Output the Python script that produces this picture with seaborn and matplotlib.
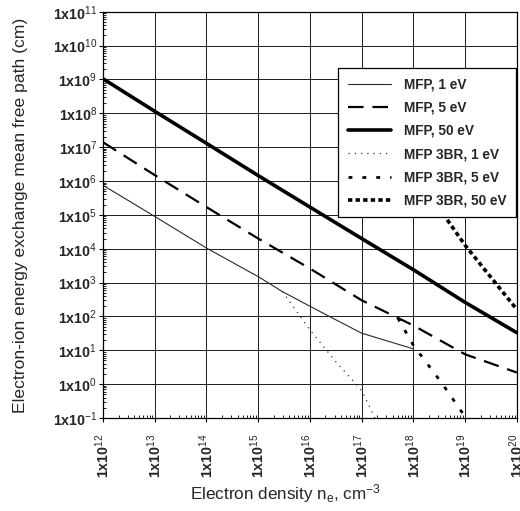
import numpy as np
import pandas as pd
import matplotlib
matplotlib.use("Agg")
import matplotlib.pyplot as plt
import matplotlib.ticker as mticker
import seaborn as sns

# ---- data ----
x_mfp_1 = [1e12, 1e13, 1e14, 4.4e14, 1e15, 2.95e15, 1e16, 2.6e16, 1e17, 1e18]
y_mfp_1 = [7.5e5, 9e4, 1.05e4, 3000, 1500, 540, 200, 93, 32, 11]

x_mfp_5 = [1e12, 1e13, 1e14, 1e15, 1e16, 1e17, 1e18, 1e19, 1e20]
y_mfp_5 = [1.4e7, 1.5e6, 1.7e5, 2e4, 2.6e3, 3e2, 54, 7.6, 2.2]

x_mfp_50 = [1e12, 1e13, 1e14, 1e15, 1e16, 1e17, 1e18, 1e19, 1e20]
y_mfp_50 = [1.05e9, 1.15e8, 1.3e7, 1.45e6, 1.7e5, 2e4, 2.4e3, 2.6e2, 33]

x_3br_1 = [2.95e15, 1e16, 3.2e16, 1e17, 1.8e17]
y_3br_1 = [540, 40, 4.5, 0.65, 0.1]

x_3br_5 = [5e17, 1e18, 3.55e18, 8.9e18, 1e19]
y_3br_5 = [90, 14, 1.07, 0.14, 0.1]

x_3br_50 = [2.5e18, 4e18, 1e19, 1e20]
y_3br_50 = [2.5e5, 9.3e4, 1.26e4, 1.6e2]

labels = ["MFP, 1 eV", "MFP, 5 eV", "MFP, 50 eV",
          "MFP 3BR, 1 eV", "MFP 3BR, 5 eV", "MFP 3BR, 50 eV"]
xs = [x_mfp_1, x_mfp_5, x_mfp_50, x_3br_1, x_3br_5, x_3br_50]
ys = [y_mfp_1, y_mfp_5, y_mfp_50, y_3br_1, y_3br_5, y_3br_50]

frames = []
for lab, xv, yv in zip(labels, xs, ys):
    frames.append(pd.DataFrame({"ne": xv, "mfp": yv, "series": lab}))
df = pd.concat(frames, ignore_index=True)

# ---- style ----
sns.set_theme(style="white")
plt.rcParams["font.family"] = ["Liberation Sans", "DejaVu Sans"]
plt.rcParams["mathtext.fontset"] = "custom"
plt.rcParams["mathtext.rm"] = "Liberation Sans"
plt.rcParams["mathtext.bf"] = "Liberation Sans:bold"
plt.rcParams["mathtext.it"] = "Liberation Sans:italic"

palette = {l: "black" for l in labels}
palette["MFP, 1 eV"] = "#2a2a2a"
palette["MFP 3BR, 1 eV"] = "#333333"
sizes = {"MFP, 1 eV": 0.8, "MFP, 5 eV": 1.6, "MFP, 50 eV": 2.6,
         "MFP 3BR, 1 eV": 0.9, "MFP 3BR, 5 eV": 2.0, "MFP 3BR, 50 eV": 2.6}
dashes = {"MFP, 1 eV": "", "MFP, 5 eV": (7, 4), "MFP, 50 eV": "",
          "MFP 3BR, 1 eV": (1, 4), "MFP 3BR, 5 eV": (1.4, 3.6), "MFP 3BR, 50 eV": (1.2, 0.9)}

fig = plt.figure(figsize=(5.2, 5.11), dpi=100)
ax = fig.add_axes([0.198, 0.182, 0.796, 0.795])

sns.lineplot(data=df, x="ne", y="mfp", hue="series", style="series", size="series",
             hue_order=labels, style_order=labels, size_order=labels,
             palette=palette, sizes=sizes, dashes=dashes,
             estimator=None, sort=False, ax=ax, legend=True)

for ln in ax.get_lines():
    ln.set_dash_capstyle("butt")

ax.set_xscale("log")
ax.set_yscale("log")
ax.set_xlim(1e12, 1e20)
ax.set_ylim(1e-1, 1e11)

xt = [10.0**k for k in range(12, 21)]
yt = [10.0**k for k in range(-1, 12)]
ax.set_xticks(xt)
ax.set_yticks(yt)

def fmt(v, pos=None):
    e = int(round(np.log10(v)))
    return r"1x10$^{%d}$" % e

ax.xaxis.set_major_formatter(mticker.FuncFormatter(fmt))
ax.yaxis.set_major_formatter(mticker.FuncFormatter(fmt))
ax.xaxis.set_minor_locator(mticker.LogLocator(base=10, subs=np.arange(2, 10), numticks=50))
ax.yaxis.set_minor_locator(mticker.LogLocator(base=10, subs=np.arange(2, 10), numticks=50))
ax.xaxis.set_minor_formatter(mticker.NullFormatter())
ax.yaxis.set_minor_formatter(mticker.NullFormatter())

for lab in ax.get_xticklabels():
    lab.set_rotation(90)
    lab.set_fontweight("bold")
    lab.set_fontsize(10.3)
for lab in ax.get_yticklabels():
    lab.set_fontweight("bold")
    lab.set_fontsize(10.3)

ax.tick_params(axis="both", which="major", direction="out", length=3, width=0.8,
               color="black", bottom=True, left=True)
ax.tick_params(axis="x", which="major", pad=8)
ax.tick_params(axis="y", which="major", pad=1)
ax.tick_params(axis="both", which="minor", direction="in", length=2.5, width=0.6,
               color="black", bottom=True, left=True)

ax.grid(True, which="major", color="#1a1a1a", linewidth=0.7)
for sp in ax.spines.values():
    sp.set_color("black")
    sp.set_linewidth(0.9)

ax.set_xlabel(r"Electron density n$_\mathrm{e}$, cm$^{-3}$", fontsize=12.3)
ax.set_ylabel("Electron-ion energy exchange mean free path (cm)", fontsize=12.6)
ax.xaxis.set_label_coords(0.44, -0.158)
ax.yaxis.set_label_coords(-0.18, 0.5)

handles, labs = ax.get_legend_handles_labels()
leg = ax.legend(handles, labs, loc="upper left", bbox_to_anchor=(0.568, 0.862),
                borderaxespad=0, frameon=True, fancybox=False, edgecolor="black",
                framealpha=1, prop={"weight": "bold", "size": 9.8},
                handlelength=3.2, handletextpad=0.95, labelspacing=0.68,
                borderpad=0.7)
leg.get_frame().set_linewidth(0.9)

fig.savefig("out.png", dpi=100)
